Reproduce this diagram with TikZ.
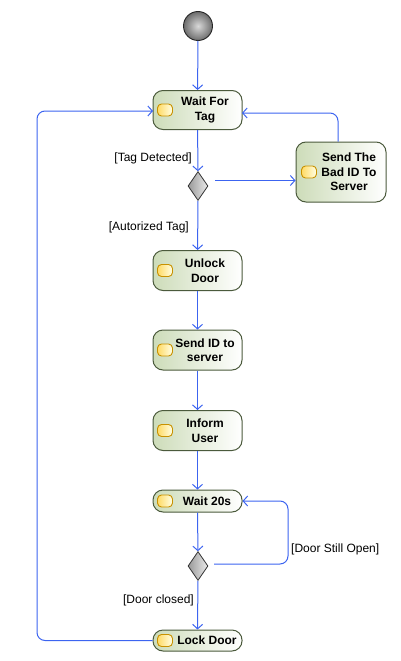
\documentclass[tikz,border=0pt]{standalone}
\usepackage{fontspec}
\setmainfont{Liberation Sans}
\usetikzlibrary{arrows.meta,shapes.geometric,positioning}
\definecolor{flow}{RGB}{60,100,240}
\definecolor{boxgreen}{RGB}{205,220,185}
\definecolor{boxline}{RGB}{75,90,60}
\definecolor{iconfill}{RGB}{255,218,100}
\definecolor{iconline}{RGB}{200,145,0}
\tikzset{
  act/.style={draw=boxline, line width=1pt, rounded corners=10pt, left color=boxgreen, right color=white, minimum width=89pt, inner sep=0pt},
  acttext/.style={font=\fontsize{12}{14.5}\selectfont\bfseries, align=center, inner sep=0pt},
  icon/.style={draw=iconline, line width=0.9pt, rounded corners=4pt, left color=iconfill, right color=white!90!yellow, minimum width=15pt, minimum height=12pt, inner sep=0pt},
  decis/.style={diamond, draw=black!80, line width=0.8pt, left color=gray!80, right color=gray!15, minimum width=20pt, minimum height=29pt, inner sep=0pt, aspect=0.7},
  flowline/.style={draw=flow, line width=1pt, -{Straight Barb[length=4.5pt,width=10pt]}},
  guard/.style={font=\fontsize{12}{14}\selectfont, inner sep=0pt}
}
\begin{document}
\begin{tikzpicture}[x=1pt,y=-1pt]
\useasboundingbox (0,0) rectangle (400,661);
% start
\node[circle, draw=black!85, line width=0.9pt, inner color=gray!30, outer color=gray!85!black, minimum size=29pt, inner sep=0pt] (start) at (198,26) {};
% activities
\node[act, minimum height=39pt] (wait) at (197.5,110) {};
\node[icon] at (165,110) {};
\node[acttext] at (205,110) {Wait For\\Tag};

\node[decis] (d1) at (198,186) {};

\node[act, minimum width=90pt, minimum height=60pt] (bad) at (341,172) {};
\node[icon] at (309,172) {};
\node[acttext] at (349,172) {Send The\\Bad ID To\\Server};

\node[act, minimum height=40pt] (unlock) at (197.5,270.5) {};
\node[icon] at (165,270.5) {};
\node[acttext] at (205,270.5) {Unlock\\Door};

\node[act, minimum height=40pt] (send) at (197.5,350) {};
\node[icon] at (165,350) {};
\node[acttext] at (205,350) {Send ID to\\server};

\node[act, minimum height=40pt] (inform) at (197.5,430.5) {};
\node[icon] at (165,430.5) {};
\node[acttext] at (205,430.5) {Inform\\User};

\node[act, minimum height=22pt] (w20) at (197.5,501) {};
\node[icon] at (165,501) {};
\node[acttext] at (207,501) {Wait 20s};

\node[decis] (d2) at (198,566) {};

\node[act, minimum height=21pt] (lock) at (197.5,640.5) {};
\node[icon] at (165,640.5) {};
\node[acttext] at (207,640.5) {Lock Door};

% coordinates
\coordinate (d1r) at (215,180.5);
\coordinate (d2r) at (214,564);
% connectors
\draw[flowline] (start) -- (wait);
\draw[flowline] (wait) -- (d1);
\draw[flowline] (d1r) -- (d1r -| bad.west);
\draw[flowline, rounded corners=8pt] (bad.north -| 338,0) -- (338,113) -- (242,113);
\draw[flowline] (d1) -- (unlock);
\draw[flowline] (unlock) -- (send);
\draw[flowline] (send) -- (inform);
\draw[flowline] (inform) -- (w20);
\draw[flowline] (w20) -- (d2);
\draw[flowline, rounded corners=8pt] (d2r) -- (288,564) -- (288,501) -- (w20.east);
\draw[flowline] (d2) -- (lock);
\draw[flowline, rounded corners=8pt] (lock.west) -- (37,640.5) -- (37,111) -- (153,111);
% guards
\node[guard, anchor=east] at (192,158) {[Tag Detected]};
\node[guard, anchor=east] at (189,227) {[Autorized Tag]};
\node[guard, anchor=west] at (291,549) {[Door Still Open]};
\node[guard, anchor=east] at (194,600) {[Door closed]};
\end{tikzpicture}
\end{document}
